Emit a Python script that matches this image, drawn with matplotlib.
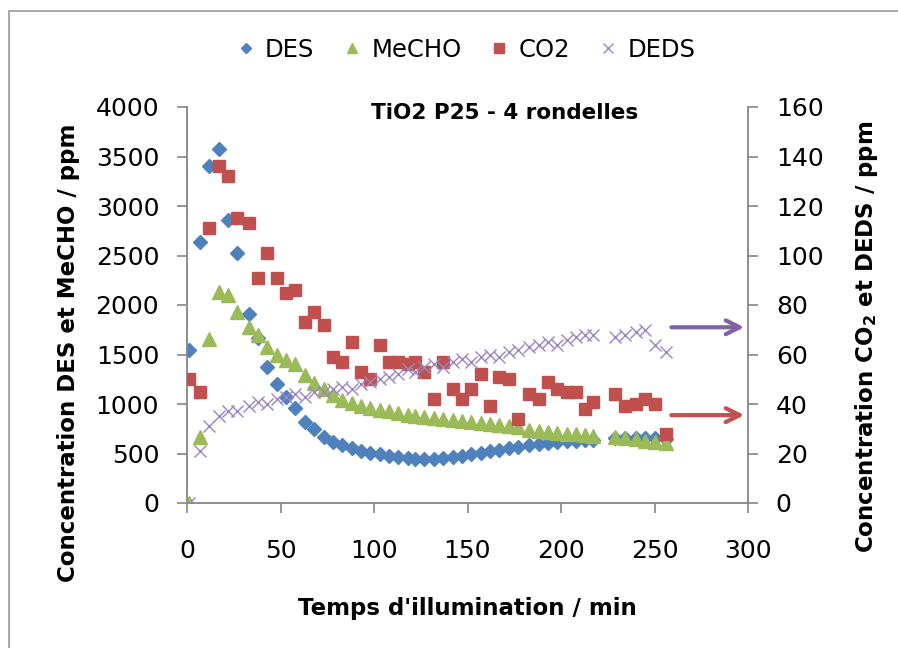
import matplotlib
matplotlib.use('Agg')
import matplotlib.pyplot as plt
from matplotlib.patches import Rectangle

# Temps d'illumination (min)
t_min = [1, 7, 12, 17, 22, 27, 33, 38, 43, 48,
         53, 58, 63, 68, 73, 78, 83, 88, 93, 98,
         103, 108, 113, 118, 122, 127, 132, 137, 142, 147,
         152, 157, 162, 167, 172, 177, 183, 188, 193, 198,
         203, 208, 213, 217,
         229, 234, 240, 245, 250, 256]

# Axe gauche (ppm)
des = [1550, 2640, 3400, 3580, 2860, 2530, 1910, 1670, 1370, 1200,
       1070, 960, 820, 750, 670, 620, 590, 555, 530, 510,
       490, 475, 465, 450, 440, 440, 445, 455, 465, 475,
       490, 510, 525, 540, 560, 570, 585, 595, 605, 615,
       625, 630, 635, 640,
       655, 655, 660, 660, 660, 650]
mecho = [0, 670, 1660, 2130, 2100, 1930, 1780, 1700, 1580, 1490,
         1440, 1400, 1290, 1210, 1150, 1090, 1040, 1010, 975, 955,
         940, 925, 905, 890, 880, 870, 860, 850, 840, 830,
         820, 810, 800, 790, 780, 770, 740, 730, 720, 710,
         700, 695, 690, 680,
         670, 660, 650, 630, 620, 610]

# Axe droit (ppm)
co2 = [50, 45, 111, 136, 132, 115, 113, 91, 101, 91,
       85, 86, 73, 77, 72, 59, 57, 65, 53, 50,
       64, 57, 57, 56, 57, 53, 42, 57, 46, 42,
       46, 52, 39, 51, 50, 34, 44, 42, 49, 46,
       45, 45, 38, 41,
       44, 39, 40, 42, 40, 28]
deds = [0, 21, 31, 35, 37, 37, 39, 41, 40, 42,
        43, 44, 43, 45, 45, 46, 47, 46, 48, 49,
        50, 51, 52, 54, 53, 55, 56, 55, 57, 58,
        57, 59, 60, 59, 61, 62, 63, 64, 65, 64,
        66, 67, 68, 68,
        67, 68, 69, 70, 64, 61]

c_des = '#4F81BD'
c_mecho = '#9BBB59'
c_co2 = '#C0504D'
c_deds = '#9A86C0'
c_axe = '#868686'

W, H = 898, 648
fig = plt.figure(figsize=(W / 100, H / 100), dpi=100)

# Cadre du graphique
fig.patches.append(Rectangle((9 / W, -0.05), 1.0, 1 - 11 / H + 0.05,
                             transform=fig.transFigure, fill=False,
                             edgecolor='#9a9a9a', lw=1.2))

ax = fig.add_axes([187 / W, 1 - 503 / H, (748 - 187) / W, (503 - 107) / H])
ax2 = ax.twinx()

h1, = ax.plot(t_min, des, 'D', color=c_des, ms=7, mec=c_des, ls='none', label='DES')
h2, = ax.plot(t_min, mecho, '^', color=c_mecho, ms=9.5, mec=c_mecho, ls='none', label='MeCHO')
h3, = ax2.plot(t_min, co2, 's', color=c_co2, ms=8.5, mec=c_co2, ls='none', label='CO2')
h4, = ax2.plot(t_min, deds, 'x', color=c_deds, ms=9, mew=1.0, ls='none', label='DEDS')

ax.set_xlim(0, 300)
ax.set_ylim(0, 4000)
ax2.set_ylim(0, 160)
ax.set_xticks(range(0, 301, 50))
ax.set_yticks(range(0, 4001, 500))
ax2.set_yticks(range(0, 161, 20))

for a in (ax, ax2):
    for s in a.spines.values():
        s.set_visible(False)
    a.set_facecolor('none')
ax.spines['left'].set_visible(True)
ax.spines['bottom'].set_visible(True)
ax2.spines['right'].set_visible(True)
for s in (ax.spines['left'], ax.spines['bottom'], ax2.spines['right']):
    s.set_color(c_axe)
    s.set_linewidth(1.3)

ax.tick_params(axis='y', direction='out', length=7, width=1.2, color=c_axe,
               labelsize=18, pad=13)
ax.tick_params(axis='x', direction='out', length=7, width=1.2, color=c_axe,
               labelsize=18, pad=19)
ax2.tick_params(axis='y', direction='out', length=7, width=1.2, color=c_axe,
                labelsize=18, pad=13)

ax.set_ylabel('Concentration DES et MeCHO / ppm', fontsize=16.5, fontweight='bold')
ax.yaxis.set_label_coords(-0.191, 0.379)
ax2.set_ylabel(r'Concentration CO$_{\mathbf{2}}$ et DEDS / ppm', fontsize=16.5,
               fontweight='bold', rotation=90)
ax2.yaxis.set_label_coords(1.187, 0.419)
ax.set_xlabel("Temps d'illumination / min", fontsize=16.5, fontweight='bold')
ax.xaxis.set_label_coords(0.5, -0.237)

ax.text(0.567, 0.985, 'TiO2 P25 - 4 rondelles', transform=ax.transAxes,
        ha='center', va='center', fontsize=15.5, fontweight='bold')

# Fleches vers l'axe de droite
for yv, col in ((71, '#8064A2'), (35.5, c_co2)):
    ax2.annotate('', xy=(298, yv), xytext=(259, yv),
                 arrowprops=dict(arrowstyle='->', color=col, lw=3,
                                 mutation_scale=25, shrinkA=0, shrinkB=0))

fig.legend(handles=[h1, h2, h3, h4], loc='center',
           bbox_to_anchor=(465 / W, 1 - 50 / H), ncol=4, frameon=False,
           fontsize=17.5, handlelength=0.9, handletextpad=0.35,
           columnspacing=1.1, markerscale=0.8)

fig.savefig('out.png', dpi=100)
